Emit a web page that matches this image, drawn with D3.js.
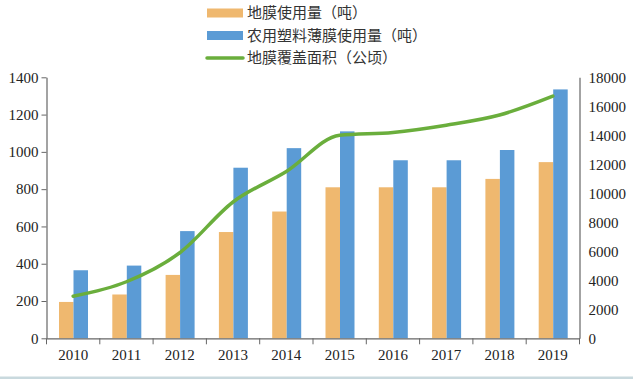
<!DOCTYPE html>
<html lang="zh">
<head>
    <meta charset="UTF-8">
    <title>地膜使用量与覆盖面积</title>
    <script src="https://d3js.org/d3.v7.min.js"></script>
    <style>
        body { margin: 0; background: #fff; }
        .legend text { font-family: "Noto Sans CJK SC", sans-serif; font-size: 15px; fill: #333; }
    </style>
</head>
<body>
    <svg width="633" height="379"></svg>
    <script>
        // 数据
        const years = ["2010", "2011", "2012", "2013", "2014", "2015", "2016", "2017", "2018", "2019"];
        const dimoUse = [195, 235, 340, 570, 680, 810, 810, 810, 855, 945];          // 地膜使用量（吨）
        const filmUse = [365, 390, 575, 915, 1020, 1110, 955, 955, 1010, 1335];      // 农用塑料薄膜使用量（吨）
        const coverArea = [2900, 3900, 5900, 9400, 11500, 14000, 14200, 14700, 15400, 16700]; // 地膜覆盖面积（公顷）
        const leftTicks = [0, 200, 400, 600, 800, 1000, 1200, 1400];
        const rightTicks = [0, 2000, 4000, 6000, 8000, 10000, 12000, 14000, 16000, 18000];

        const svg = d3.select("svg");
        const plotL = 46.5, plotR = 579.5, plotT = 77.3, plotB = 338.3;

        const x = d3.scaleBand().domain(years).range([plotL, plotR]);
        const yL = d3.scaleLinear().domain([0, 1400]).range([plotB, plotT]);
        const yR = d3.scaleLinear().domain([0, 18000]).range([plotB, plotT]);

        const orange = "#efb86f", blue = "#5b9bd5", green = "#6aae3c";
        const barW = 14.5, gap = 12.5;

        // 柱子
        svg.append("g").selectAll("rect")
            .data(years)
            .enter().append("rect")
            .attr("x", d => x(d) + gap)
            .attr("y", (d, i) => yL(dimoUse[i]))
            .attr("width", barW)
            .attr("height", (d, i) => plotB - yL(dimoUse[i]))
            .attr("fill", orange);

        svg.append("g").selectAll("rect")
            .data(years)
            .enter().append("rect")
            .attr("x", d => x(d) + gap + barW)
            .attr("y", (d, i) => yL(filmUse[i]))
            .attr("width", barW)
            .attr("height", (d, i) => plotB - yL(filmUse[i]))
            .attr("fill", blue);

        // 折线
        const line = d3.line()
            .x((d, i) => x(years[i]) + x.bandwidth() / 2)
            .y(d => yR(d))
            .curve(d3.curveMonotoneX);
        svg.append("path")
            .datum(coverArea)
            .attr("d", line)
            .attr("fill", "none")
            .attr("stroke", green)
            .attr("stroke-width", 3.5)
            .attr("stroke-linecap", "round");

        // 坐标轴
        const axisColor = "#666";
        const fmt = d3.format("d");
        const gL = svg.append("g")
            .attr("transform", `translate(${plotL},0)`)
            .call(d3.axisLeft(yL).tickValues(leftTicks).tickFormat(fmt).tickSize(5).tickSizeOuter(0).tickPadding(3));
        const gR = svg.append("g")
            .attr("transform", `translate(${plotR},0)`)
            .call(d3.axisRight(yR).tickValues(rightTicks).tickFormat(fmt).tickSize(0).tickPadding(9));
        const gB = svg.append("g")
            .attr("transform", `translate(0,${plotB})`)
            .call(d3.axisBottom(x).tickSize(0).tickPadding(11));
        // 底部分隔刻度
        gB.selectAll(".sep")
            .data(years.concat(["end"]))
            .enter().append("line")
            .attr("x1", (d, i) => i < years.length ? x(d) : plotR)
            .attr("x2", (d, i) => i < years.length ? x(d) : plotR)
            .attr("y1", 0).attr("y2", 6)
            .attr("stroke", axisColor);

        [gL, gR, gB].forEach(g => {
            g.attr("font-family", "'Liberation Serif', 'DejaVu Serif', serif")
             .attr("font-size", 15);
            g.selectAll("text").attr("fill", "#222");
            g.selectAll("path, line").attr("stroke", axisColor);
            g.select(".domain").attr("stroke-width", 1.2);
        });

        // 图例
        const legend = svg.append("g").attr("class", "legend");
        const items = [
            { label: "地膜使用量（吨）", color: orange, type: "rect" },
            { label: "农用塑料薄膜使用量（吨）", color: blue, type: "rect" },
            { label: "地膜覆盖面积（公顷）", color: green, type: "line" }
        ];
        items.forEach((it, i) => {
            const cy = 13 + i * 22.5;
            if (it.type === "rect") {
                legend.append("rect")
                    .attr("x", 207).attr("y", cy - 4.5)
                    .attr("width", 36).attr("height", 9)
                    .attr("fill", it.color);
            } else {
                legend.append("line")
                    .attr("x1", 207).attr("x2", 243)
                    .attr("y1", cy).attr("y2", cy)
                    .attr("stroke", it.color).attr("stroke-width", 3.5)
                    .attr("stroke-linecap", "round");
            }
            legend.append("text")
                .attr("x", 247).attr("y", cy)
                .attr("dy", "0.35em")
                .text(it.label);
        });

        // 底边
        svg.append("rect")
            .attr("x", 0).attr("y", 376.5)
            .attr("width", 633).attr("height", 2.5)
            .attr("fill", "#c9d9de");
    </script>
</body>
</html>
